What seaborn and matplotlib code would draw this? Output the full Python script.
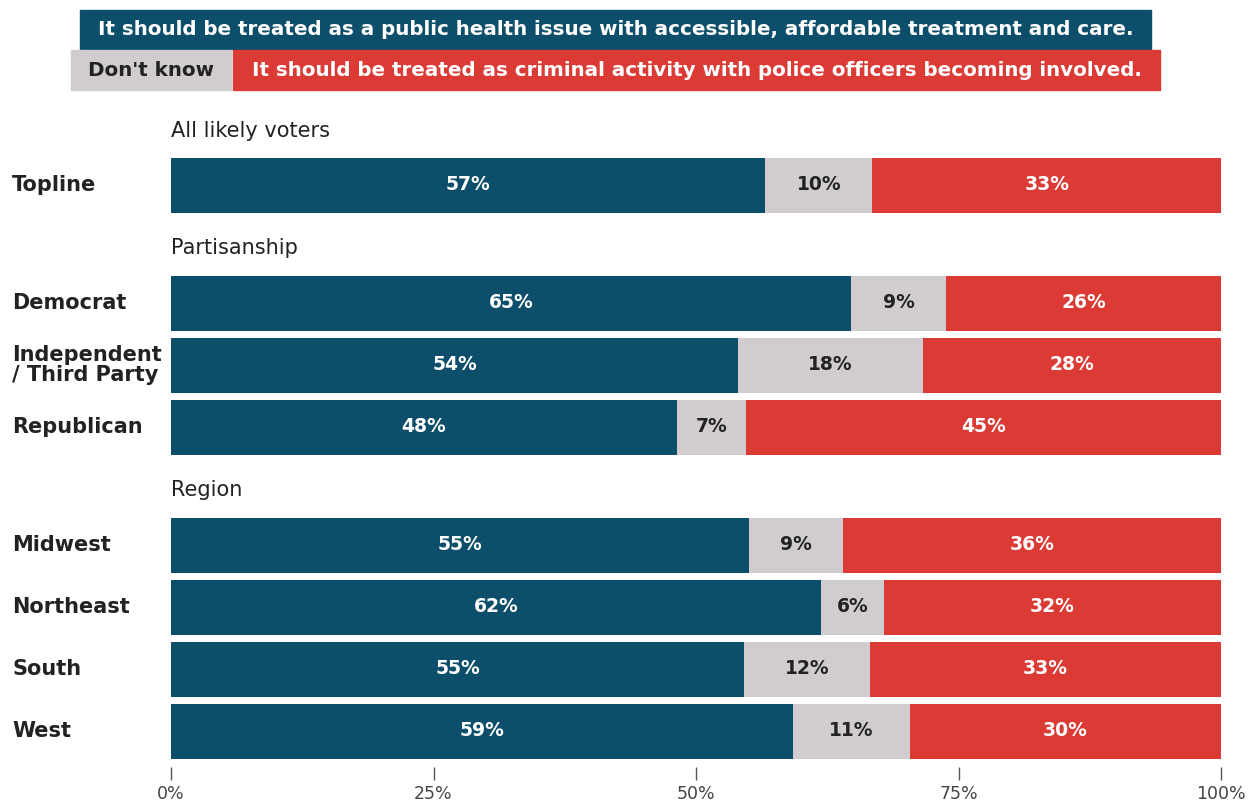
import pandas as pd
import matplotlib.pyplot as plt
import matplotlib.transforms as mtransforms
from matplotlib.patches import Rectangle
import seaborn as sns

# Data (percent shares)
groups = ["All likely voters", "Partisanship", "Partisanship", "Partisanship",
          "Region", "Region", "Region", "Region"]
labels = ["Topline", "Democrat", "Independent\n/ Third Party", "Republican",
          "Midwest", "Northeast", "South", "West"]
health = [56.6, 64.8, 54.0, 48.2, 55.0, 61.9, 54.6, 59.2]
dont_know = [10.2, 9.0, 17.6, 6.6, 9.0, 6.0, 12.0, 11.2]
criminal = [33.2, 26.2, 28.4, 45.2, 36.0, 32.1, 33.4, 29.6]

legend_health = "It should be treated as a public health issue with accessible, affordable treatment and care."
legend_dk = "Don't know"
legend_crim = "It should be treated as criminal activity with police officers becoming involved."

TEAL = "#0d4f6b"
GREY = "#d0cccf"
RED = "#dc3a35"
DARK = "#222222"

W, H = 1259, 802
sns.set_theme(style="white")
plt.rcParams["font.family"] = ["DejaVu Sans"]

# row positions in pixel units (top-down), extra gap between groups
pos = []
y = 185
for i, g in enumerate(groups):
    if i > 0:
        y += 62 if g == groups[i - 1] else 118
    pos.append(y)

df = pd.DataFrame({"group": groups, "label": labels, "pos": pos,
                   "health": health, "dk": dont_know, "crim": criminal})
df["total"] = df["health"] + df["dk"] + df["crim"]
df["hd"] = df["health"] + df["dk"]

fig = plt.figure(figsize=(W / 100, H / 100), dpi=100)
ax = fig.add_axes([171 / W, 1 - 767 / H, (1221 - 171) / W, (767 - 100) / H])

bar_w = 55 / 62
for col, c in [("total", RED), ("hd", GREY), ("health", TEAL)]:
    sns.barplot(data=df, x=col, y="pos", orient="h", native_scale=True,
                color=c, saturation=1, width=bar_w, errorbar=None, ax=ax,
                linewidth=0)

ax.set_xlim(0, df["total"].max())
ax.set_ylim(767, 100)
ax.set_xlabel("")
ax.set_ylabel("")
ax.set_yticks([])
ax.set_xticks([0, 25, 50, 75, 100])
ax.set_xticklabels(["0%", "25%", "50%", "75%", "100%"], fontsize=12.5, color="#444444")
ax.tick_params(axis="x", bottom=True, length=9, width=1, color="#555555", pad=4)
sns.despine(ax=ax, left=True, bottom=True)

# segment labels
for _, r in df.iterrows():
    ax.text(r["health"] / 2, r["pos"], f"{round(r['health']):.0f}%", ha="center",
            va="center", color="white", fontsize=13.5, fontweight="bold")
    ax.text(r["health"] + r["dk"] / 2, r["pos"], f"{round(r['dk']):.0f}%", ha="center",
            va="center", color=DARK, fontsize=13.5, fontweight="bold")
    ax.text(r["hd"] + r["crim"] / 2, r["pos"], f"{round(r['crim']):.0f}%", ha="center",
            va="center", color="white", fontsize=13.5, fontweight="bold")

# row labels on the left
trans = mtransforms.blended_transform_factory(fig.transFigure, ax.transData)
for _, r in df.iterrows():
    fig.text(12 / W, r["pos"], r["label"], transform=trans, ha="left", va="center",
             fontsize=15, fontweight="bold", color=DARK, linespacing=1.0)

# group headers
for g in dict.fromkeys(groups):
    first = df.loc[df["group"] == g, "pos"].min()
    offset = 54 if g == groups[0] else 55
    ax.text(0, first - offset, g, ha="left", va="center", fontsize=15, color=DARK)


# legend boxes at the top
def box(x0, y0, x1, y1, color, text, tcolor):
    fig.patches.append(Rectangle((x0 / W, 1 - y1 / H), (x1 - x0) / W, (y1 - y0) / H,
                                 transform=fig.transFigure, color=color, zorder=0))
    fig.text((x0 + x1) / 2 / W, 1 - (y0 + y1) / 2 / H, text, ha="center", va="center",
             fontsize=14.3, fontweight="bold", color=tcolor)


box(80, 10, 1151, 49, TEAL, legend_health, "white")
box(71, 50, 231, 90, GREY, legend_dk, DARK)
box(233, 50, 1160, 90, RED, legend_crim, "white")

fig.savefig("out.png", dpi=100)
